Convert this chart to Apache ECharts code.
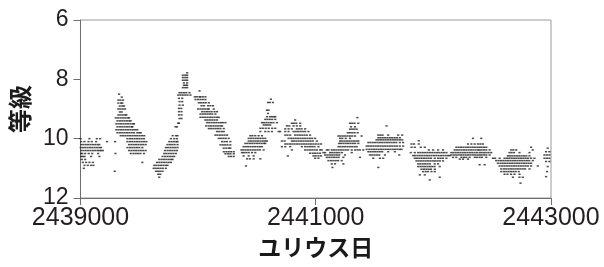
<!DOCTYPE html>
<html>
<head>
<meta charset="utf-8">
<script src="https://cdn.jsdelivr.net/npm/echarts@6/dist/echarts.min.js"></script>
<style>
  html, body { margin: 0; padding: 0; background: #fff; }
  #chart { width: 604px; height: 267px; }
</style>
</head>
<body>
<div id="chart"></div>
<script>
// days are counted from JD 2439000, each row is [magnitude, day, day, ...]
var jdOrigin = 2439000;
var xTicks = [2439000, 2441000, 2443000];
var yTicks = [6, 8, 10, 12];

var season1 = [
    [10.0, 0, 76, 139, 167],
    [10.1, 6, 34, 68, 96, 133, 226],
    [10.2, 6, 25, 45, 65, 85, 105, 125, 145, 160],
    [10.3, 2, 20, 40, 60, 80, 100, 120, 140, 160, 175],
    [10.4, 6, 25, 45, 65, 85, 105, 125, 145, 160, 175, 190],
    [10.5, 5, 15, 40, 70, 100, 150],
    [10.6, 6, 20, 35, 90, 161],
    [10.7, 12, 40],
    [10.8, 20, 48, 76, 105],
    [10.9, 34, 62, 90, 110],
    [11.0, 28]
];
var season2 = [
    [8.5, 328],
    [8.6, 351],
    [8.7, 322, 340, 362],
    [8.8, 322, 345, 356],
    [8.9, 334, 355, 370],
    [9.0, 322, 340, 360, 379],
    [9.1, 334, 351],
    [9.2, 322, 340, 360, 380, 390],
    [9.3, 300, 320, 340, 360, 380, 400, 413],
    [9.4, 314, 335, 355, 375, 395, 415, 427],
    [9.5, 305, 325, 345, 365, 385, 405, 425, 445, 455],
    [9.6, 314, 335, 355, 375, 395, 415, 435, 441],
    [9.7, 305, 325, 345, 365, 385, 405, 425, 445, 465, 483],
    [9.8, 314, 335, 355, 375, 395, 415, 435, 455, 483, 500, 512],
    [9.9, 342, 362, 382, 402, 422, 442, 462, 482, 502, 522, 542],
    [10.0, 399, 420, 440, 460, 480, 500, 520, 540],
    [10.1, 294, 399, 420, 440, 460, 480, 500, 520, 540, 560],
    [10.2, 413, 433, 453, 473, 493, 513, 533, 554],
    [10.3, 399, 420, 440, 460, 480, 500, 526],
    [10.4, 413, 433, 453, 473, 493, 513, 533, 554],
    [10.5, 297, 427, 450, 470, 490, 510, 540],
    [10.8, 526],
    [11.1, 291]
];
var season3 = [
    [7.78, 907],
    [7.86, 870, 890, 907],
    [7.94, 870, 890, 907],
    [8.03, 870, 890, 907],
    [8.12, 879, 907],
    [8.2, 879, 895, 907],
    [8.28, 870, 890, 907],
    [8.45, 842, 860, 880, 900, 927],
    [8.53, 831, 850, 870, 890, 910, 935],
    [8.64, 837, 865],
    [8.75, 842, 865],
    [8.87, 842, 870],
    [8.98, 837, 857],
    [9.09, 837, 859],
    [9.2, 837, 859],
    [9.32, 842, 859],
    [9.48, 831, 837],
    [9.6, 808, 820],
    [9.9, 783, 811, 825],
    [10.0, 769, 797, 820],
    [10.1, 755, 775, 795, 815, 825],
    [10.2, 740, 760, 780, 800, 825],
    [10.3, 726, 745, 765, 785, 805, 825],
    [10.4, 718, 740, 760, 780, 800, 820],
    [10.5, 712, 730, 750, 770, 790, 811],
    [10.6, 698, 720, 740, 760, 780, 797],
    [10.7, 670, 690, 710, 730, 750, 770, 783],
    [10.8, 650, 670, 690, 710, 730, 750, 769],
    [10.9, 627, 645, 665, 685, 705, 725, 740],
    [11.0, 622, 640, 660, 680, 700, 726],
    [11.1, 642, 660, 678, 698],
    [11.2, 661, 678],
    [11.3, 670]
];
var season4 = [
    [8.39, 1012],
    [8.59, 972, 990, 1012, 1020, 1040, 1062],
    [8.68, 978, 1000, 1020, 1040, 1062],
    [8.79, 1006, 1025, 1045, 1065, 1091],
    [8.89, 1029, 1050, 1085, 1105, 1127],
    [9.0, 1000, 1020, 1040, 1060, 1080, 1091, 1133],
    [9.09, 1034, 1055, 1075, 1095, 1115, 1140, 1161],
    [9.17, 1020, 1040, 1060, 1080, 1100, 1120, 1147],
    [9.28, 1020, 1040, 1060, 1080, 1100, 1120, 1140, 1160, 1175],
    [9.37, 1062, 1080, 1100, 1120, 1140, 1161],
    [9.46, 1077, 1095, 1115, 1135, 1155, 1175, 1195, 1212, 1232],
    [9.57, 1068, 1090, 1110, 1130, 1150, 1170, 1190, 1204],
    [9.66, 1091, 1110, 1130, 1150, 1170, 1190, 1218],
    [9.76, 1161, 1180, 1200, 1218],
    [9.88, 1147, 1165, 1185, 1205, 1225, 1246],
    [9.99, 1176, 1195, 1215, 1235, 1260],
    [10.1, 1204, 1225, 1245, 1274],
    [10.21, 1190, 1210, 1230, 1250, 1274],
    [10.32, 1218, 1240, 1262, 1274],
    [10.44, 1218, 1240, 1260, 1280, 1303],
    [10.51, 1232, 1255, 1275, 1303],
    [10.6, 1260, 1280, 1303]
];
var season5 = [
    [8.67, 1619],
    [8.78, 1594, 1610, 1636],
    [9.04, 1585, 1599],
    [9.15, 1594],
    [9.26, 1585, 1610, 1628, 1646, 1656],
    [9.35, 1571, 1590, 1610, 1630, 1656],
    [9.46, 1543, 1560, 1580, 1600, 1620, 1640, 1670],
    [9.54, 1557, 1575, 1593, 1613],
    [9.65, 1529, 1550, 1575, 1600, 1630, 1656],
    [9.76, 1529, 1571, 1599, 1628, 1684],
    [9.9, 1444, 1462, 1486, 1514, 1543],
    [9.99, 1430, 1450, 1470, 1490, 1510, 1530, 1550, 1571],
    [10.08, 1430, 1450, 1470, 1490, 1510, 1530, 1550, 1570, 1585],
    [10.16, 1402, 1420, 1440, 1460, 1480, 1500, 1520, 1540, 1560, 1571],
    [10.27, 1387, 1405, 1425, 1445, 1465, 1485, 1505, 1525, 1543],
    [10.38, 1368, 1385, 1405, 1425, 1445, 1465, 1485, 1505, 1525, 1557],
    [10.47, 1373, 1390, 1410, 1430, 1458, 1486],
    [10.58, 1387, 1430, 1472],
    [10.68, 1416, 1440, 1472, 1529],
    [10.92, 1407]
];
var season6 = [
    [9.37, 1825],
    [9.48, 1797, 1815, 1835, 1868],
    [9.57, 1755, 1775, 1811, 1839, 1868],
    [9.67, 1741, 1769, 1797, 1839, 1860, 1880, 1910],
    [9.76, 1698, 1741, 1769, 1811, 1830, 1850, 1870, 1890, 1910, 1938],
    [9.88, 1741, 1760, 1783, 1825, 1845, 1865, 1885, 1905, 1925, 1952],
    [9.99, 1769, 1790, 1810, 1830, 1850, 1870, 1890, 1910, 1930, 1950, 1970, 1995],
    [10.08, 1712, 1735, 1797, 1815, 1835, 1855, 1875, 1895, 1915, 1935, 1955, 1975, 2009],
    [10.18, 1741, 1760, 1780, 1800, 1820, 1840, 1860, 1880, 1900, 1920, 1940, 1960, 1980, 2000, 2023, 2045],
    [10.27, 1712, 1741, 1783, 1882, 1910, 1930, 1950, 1970, 1990, 2023],
    [10.38, 1797, 1910, 1930, 1950, 1970, 1990, 2010, 2037, 2051],
    [10.49, 1952, 1975, 1995, 2015, 2037],
    [10.58, 1763, 1981, 2000, 2023, 2045],
    [10.66, 1995, 2023]
];
var season7 = [
    [9.29, 2354],
    [9.48, 2291, 2310, 2330, 2362],
    [9.6, 2300, 2334],
    [9.68, 2291, 2310, 2328, 2348],
    [9.8, 2272, 2290, 2310, 2330, 2356],
    [9.91, 2193, 2210, 2230, 2250, 2270, 2290, 2310, 2334, 2390],
    [9.99, 2207, 2226, 2255, 2291],
    [10.08, 2207, 2225, 2245, 2265, 2285, 2305, 2325, 2345, 2362],
    [10.16, 2198, 2215, 2235, 2255, 2275, 2295, 2315, 2335, 2362],
    [10.27, 2193, 2210, 2230, 2250, 2270, 2290, 2310, 2330, 2348],
    [10.38, 2094, 2108, 2136, 2155, 2175, 2195, 2215, 2235, 2255, 2275, 2306, 2334, 2355, 2375, 2404],
    [10.47, 2065, 2080, 2122, 2140, 2160, 2180, 2200, 2223, 2306],
    [10.55, 2080, 2100, 2120, 2140, 2160, 2180, 2200, 2249],
    [10.63, 2094, 2115, 2135, 2155, 2175, 2195, 2235, 2376],
    [10.74, 2108, 2130, 2150, 2170, 2190, 2221],
    [10.85, 2136, 2164, 2235],
    [10.97, 2142]
];
var season8 = [
    [9.57, 2602],
    [9.88, 2532, 2550, 2568, 2616, 2701, 2735],
    [9.97, 2532, 2550, 2570, 2590, 2610, 2630, 2650, 2670, 2690, 2715],
    [10.04, 2517, 2535, 2555, 2575, 2595, 2615, 2635, 2655, 2675, 2695, 2715, 2735],
    [10.13, 2447, 2465, 2485, 2505, 2525, 2545, 2565, 2585, 2605, 2625, 2645, 2665, 2685, 2715, 2743],
    [10.25, 2433, 2450, 2470, 2490, 2510, 2530, 2550, 2570, 2590, 2610, 2630, 2650, 2670, 2690, 2715, 2743],
    [10.36, 2433, 2455, 2475, 2495, 2515, 2535, 2555, 2575, 2595, 2615, 2635, 2655, 2675, 2695, 2715, 2730],
    [10.44, 2447, 2465, 2485, 2505, 2525, 2545, 2565, 2616, 2673],
    [10.55, 2461, 2480, 2500, 2520, 2540, 2588, 2710],
    [10.66, 2489, 2546, 2574],
    [10.97, 2532]
];
var season9 = [
    [10.07, 2876],
    [10.18, 2814, 2836, 2876],
    [10.29, 2814, 2842, 2893, 2927],
    [10.38, 2961, 2998, 3040, 3082],
    [10.47, 2808, 2842, 2871, 2890, 2910, 2930, 2950, 2970, 2990, 3010, 3030, 3050, 3070, 3090, 3111],
    [10.57, 2828, 2845, 2865, 2885, 2905, 2925, 2945, 2965, 2985, 3005, 3025, 3045, 3065, 3085, 3105, 3125, 3139],
    [10.66, 2842, 2860, 2880, 2900, 2920, 2940, 2960, 2980, 3012, 3040, 3060, 3080, 3111],
    [10.75, 2856, 2875, 2895, 2915, 2935, 2955, 2975, 2995, 3015, 3035, 3055, 3082],
    [10.85, 2871, 2890, 2910, 2930, 2950, 2970, 3012, 3040],
    [10.94, 2871, 2890, 2910, 2930, 2950, 2970, 2990, 3010, 3054],
    [11.03, 2899, 2920, 2940, 2960, 2980, 3012],
    [11.11, 2913, 2935, 2955, 2984, 3012],
    [11.22, 2885, 2927],
    [11.3, 3054],
    [11.39, 2969]
];
var season10 = [
    [9.99, 3337, 3407],
    [10.18, 3294, 3323, 3351, 3379, 3400, 3421],
    [10.29, 3195, 3215, 3235, 3255, 3275, 3295, 3315, 3335, 3355, 3375, 3393, 3410, 3430, 3450],
    [10.38, 3181, 3200, 3220, 3240, 3260, 3280, 3300, 3320, 3340, 3360, 3380, 3393, 3410, 3430, 3450, 3478],
    [10.47, 3153, 3170, 3190, 3210, 3230, 3250, 3270, 3290, 3310, 3330, 3350, 3370, 3393, 3410, 3430, 3450, 3470, 3492],
    [10.55, 3153, 3175, 3195, 3215, 3235, 3255, 3275, 3295, 3315, 3335, 3355, 3375, 3393, 3410, 3430, 3450, 3478],
    [10.63, 3167, 3195, 3238, 3260, 3280, 3308, 3351, 3370, 3393, 3413, 3450],
    [10.69, 3224, 3252, 3294],
    [10.88, 3393, 3436]
];
var season11 = [
    [10.29, 3831],
    [10.38, 3662, 3680, 3704, 3845],
    [10.47, 3647, 3665, 3685, 3732, 3817],
    [10.58, 3633, 3650, 3670, 3690, 3710, 3730, 3750, 3770, 3790, 3817],
    [10.66, 3506, 3525, 3563, 3605, 3625, 3645, 3665, 3685, 3705, 3725, 3745, 3765, 3785, 3805, 3831, 3859],
    [10.74, 3534, 3555, 3575, 3595, 3615, 3635, 3655, 3675, 3695, 3715, 3735, 3755, 3775, 3795, 3815, 3845],
    [10.83, 3548, 3570, 3590, 3610, 3630, 3650, 3670, 3690, 3710, 3730, 3750, 3770, 3790, 3810, 3831],
    [10.92, 3563, 3585, 3605, 3625, 3645, 3665, 3685, 3705, 3725, 3745, 3765, 3785, 3805, 3831, 3888],
    [11.02, 3577, 3600, 3620, 3640, 3660, 3680, 3700, 3720, 3740, 3760, 3780, 3817],
    [11.11, 3577, 3600, 3620, 3640, 3660, 3680, 3700, 3726],
    [11.2, 3605, 3630, 3661, 3690, 3732],
    [11.3, 3676, 3732, 3760],
    [11.5, 3741]
];
var season12 = [
    [10.32, 3972],
    [10.44, 3958, 3986],
    [10.55, 3944, 3965, 3986],
    [10.66, 3944, 3965, 3986],
    [10.77, 3958, 3986],
    [10.94, 3972],
    [11.11, 3966],
    [11.28, 3958]
];

var seasons = [season1, season2, season3, season4, season5, season6,
    season7, season8, season9, season10, season11, season12];

function toPoints(rows) {
    var pts = [];
    rows.forEach(function (row) {
        for (var i = 1; i < row.length; i++) {
            pts.push([jdOrigin + row[i], row[0]]);
        }
    });
    return pts;
}

var points = [];
seasons.forEach(function (s) {
    points = points.concat(toPoints(s));
});

var axisGray = '#6e6e6e';
var frameGray = '#9a9a9a';
var labelFont = '"Liberation Sans", Arial, sans-serif';
var cjkFont = '"Noto Sans CJK JP", sans-serif';

var chart = echarts.init(document.getElementById('chart'), null, { renderer: 'canvas' });
chart.setOption({
    animation: false,
    backgroundColor: '#fff',
    grid: {
        left: 79, top: 20, right: 53, bottom: 69,
        show: true,
        borderColor: frameGray,
        borderWidth: 1
    },
    xAxis: {
        type: 'value',
        min: xTicks[0],
        max: xTicks[xTicks.length - 1],
        interval: xTicks[1] - xTicks[0],
        name: 'ユリウス日',
        nameLocation: 'middle',
        nameGap: 32,
        nameTextStyle: { fontFamily: cjkFont, fontWeight: 'bold', fontSize: 23, color: '#1a1a1a' },
        axisLine: { lineStyle: { color: axisGray } },
        axisTick: { show: true, inside: false, length: 7, lineStyle: { color: axisGray } },
        splitLine: { show: false },
        axisLabel: {
            margin: 8,
            fontFamily: labelFont,
            fontSize: 25,
            color: '#231f20',
            formatter: function (v) { return String(v); }
        }
    },
    yAxis: {
        type: 'value',
        inverse: true,
        min: yTicks[0],
        max: yTicks[yTicks.length - 1],
        interval: yTicks[1] - yTicks[0],
        name: '等級',
        nameLocation: 'middle',
        nameGap: 46,
        nameRotate: 90,
        nameTextStyle: { fontFamily: cjkFont, fontWeight: 'bold', fontSize: 24, color: '#1a1a1a' },
        axisLine: { show: true, lineStyle: { color: axisGray } },
        axisTick: { show: true, inside: false, length: 7, lineStyle: { color: axisGray } },
        splitLine: { show: false },
        axisLabel: {
            margin: 12,
            fontFamily: labelFont,
            fontSize: 23,
            color: '#231f20'
        }
    },
    series: [{
        type: 'scatter',
        data: points,
        symbol: 'rect',
        symbolSize: [2.2, 1.5],
        itemStyle: { color: '#1e1e1e' },
        silent: true
    }]
});
</script>
</body>
</html>
